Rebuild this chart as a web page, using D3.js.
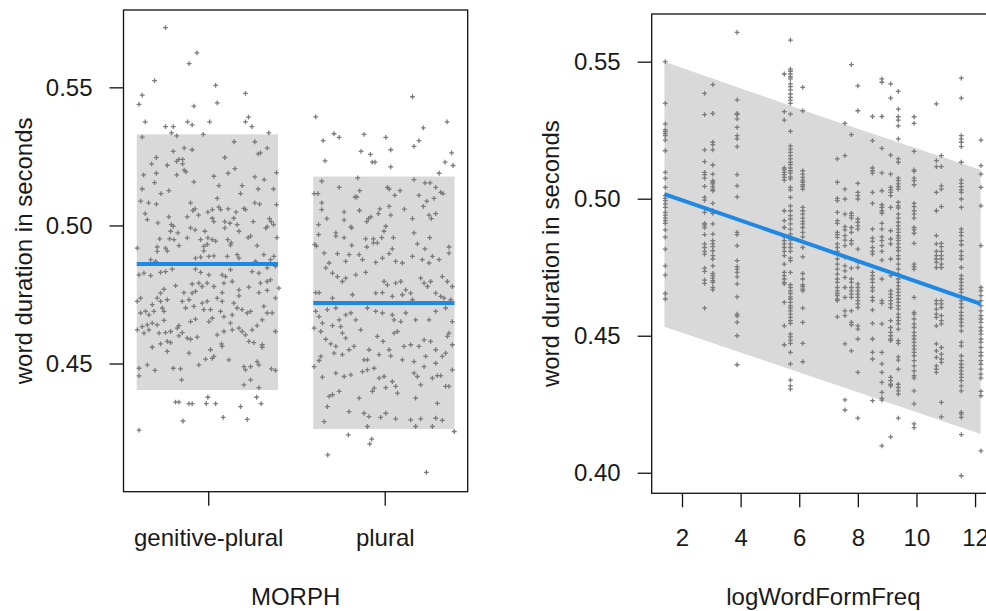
<!DOCTYPE html>
<html>
<head>
<meta charset="utf-8">
<style>
  body { margin: 0; background: #fff; }
  svg text { font-family: "Liberation Sans", Arial, sans-serif; fill: #1a1a1a; }
  .axis text { font-size: 24px; }
  .axis line { stroke: #111; stroke-width: 1.3; }
  .box { fill: none; stroke: #111; stroke-width: 1.3; }
  .pt { stroke: #7b7b7b; stroke-width: 1.3; fill: none; }
  .band { fill: #d9d9d9; }
  .fit { stroke: #1e88e5; stroke-width: 4; fill: none; }
</style>
</head>
<body>
<script src="https://d3js.org/d3.v7.min.js"></script>
<script>
// ---- left panel: MORPH ----
const categories = ['genitive-plural', 'plural'];
const categoryFit = [0.486, 0.4719];
const categoryLower = [0.4404, 0.4263];
const categoryUpper = [0.533, 0.5177];

// [jitter offset from category, duration]
const genitivePoints = [
  [-0.242,0.5716],[-0.064,0.5625],[-0.108,0.5586],[-0.304,0.5524],[0.042,0.5507],[-0.374,0.5472],[0.211,0.5478],
  [-0.392,0.5438],[0.051,0.5444],[-0.081,0.5432],[-0.357,0.5375],[-0.242,0.5358],[-0.198,0.5358],[-0.117,0.5375],
  [-0.091,0.5364],[0.008,0.5375],[0.211,0.5375],[0.228,0.5392],[0.247,0.5358],[-0.208,0.5335],[-0.179,0.5324],
  [-0.028,0.5330],[0.343,0.5335],[-0.374,0.5320],
  [0.147,0.5303],[0.264,0.5303],[-0.136,0.5280],[-0.091,0.5274],[-0.198,0.5268],[0.334,0.5280],[0.283,0.5259],
  [0.296,0.5263],[-0.294,0.5246],[0.094,0.5246],[-0.179,0.5232],[-0.166,0.5239],[-0.145,0.5239],[-0.321,0.5223],
  [-0.232,0.5218],[-0.145,0.5223],[0.151,0.5206],[-0.136,0.5200],[-0.126,0.5194],[-0.294,0.5189],[-0.366,0.5183],
  [-0.179,0.5183],[0.113,0.5189],[0.032,0.5178],[0.264,0.5176],[0.387,0.5191],[-0.081,0.5158],[-0.304,0.5155],
  [0.317,0.5166],[0.060,0.5144],[0.192,0.5144],[-0.374,0.5132],[-0.223,0.5126],[-0.268,0.5115],[0.283,0.5132],
  [0.370,0.5132],[0.183,0.5115],[0.051,0.5098],[-0.383,0.5088],[-0.338,0.5082],[-0.294,0.5077],[-0.100,0.5082],
  [0.264,0.5082],[0.291,0.5077],[0.387,0.5075],[-0.075,0.5060],[0.060,0.5066],[0.070,0.5057],[0.113,0.5060],
  [0.023,0.5057],[-0.002,0.5048],[-0.087,0.5054],[0.202,0.5062],[0.211,0.5057],[-0.357,0.5043],[-0.345,0.5021],
  [-0.285,0.5009],[-0.223,0.5031],[-0.119,0.5031],[-0.055,0.5037],[0.023,0.5026],[0.032,0.5014],[0.094,0.5014],
  [0.158,0.5048],[0.145,0.5026],[0.347,0.5025],[0.357,0.5014],[0.255,0.5014],[0.334,0.4995],[0.326,0.4990],
  [0.370,0.5003],[-0.209,0.5003],[-0.198,0.4997],[-0.172,0.4973],[-0.213,0.4979],[-0.100,0.4991],[-0.074,0.4984],
  [-0.019,0.4979],[0.094,0.4991],[0.123,0.5008],[0.164,0.5003],[0.174,0.4979],[-0.219,0.4951],[-0.194,0.4949],
  [-0.275,0.4951],[-0.119,0.4955],[-0.043,0.4949],[-0.002,0.4955],[0.023,0.4949],[0.042,0.4943],[0.111,0.4949],
  [0.130,0.4937],[0.240,0.4961],[0.226,0.4956],[0.389,0.4956],[-0.289,0.4922],[-0.242,0.4918],[-0.166,0.4927],
  [-0.025,0.4924],[-0.006,0.4931],[0.126,0.4929],[0.277,0.4927],[-0.402,0.4918],
  [-0.289,0.4906],[-0.232,0.4908],[-0.025,0.4908],[0.315,0.4894],[0.372,0.4888],[0.004,0.4888],[0.032,0.4890],
  [0.108,0.4888],[0.164,0.4894],[0.174,0.4882],[-0.326,0.4876],[-0.298,0.4870],[-0.072,0.4882],[-0.043,0.4885],
  [0.268,0.4870],[0.353,0.4876],[-0.392,0.4821],[-0.364,0.4827],[-0.326,0.4818],[-0.270,0.4830],[-0.242,0.4833],
  [-0.204,0.4842],[-0.072,0.4842],[-0.043,0.4830],[0.004,0.4821],[0.079,0.4821],[0.098,0.4815],[0.126,0.4840],
  [0.249,0.4833],[0.287,0.4827],[0.334,0.4846],[0.381,0.4852],[0.353,0.4803],[0.400,0.4773],[0.334,0.4797],
  [-0.185,0.4782],[-0.091,0.4788],[-0.053,0.4791],[-0.006,0.4791],[0.032,0.4779],[0.089,0.4791],[0.136,0.4797],
  [0.174,0.4767],[0.230,0.4777],[0.296,0.4791],[-0.251,0.4769],[-0.270,0.4755],[-0.289,0.4737],[-0.232,0.4731],
  [-0.138,0.4757],[-0.091,0.4755],[-0.072,0.4761],[-0.034,0.4779],[0.079,0.4757],[0.174,0.4745],[0.287,0.4757],
  [0.334,0.4765],[0.381,0.4737],[-0.402,0.4725],[-0.383,0.4737],[-0.317,0.4713],[-0.270,0.4725],[-0.147,0.4725],
  [-0.109,0.4731],[-0.034,0.4719],[-0.006,0.4725],[0.051,0.4737],[0.079,0.4725],[0.145,0.4719],[0.164,0.4701],
  [0.192,0.4695],[0.240,0.4689],[0.315,0.4707],[0.362,0.4683],[-0.383,0.4683],[-0.355,0.4689],[-0.336,0.4676],
  [-0.308,0.4689],[-0.260,0.4701],[-0.251,0.4689],[-0.128,0.4701],[-0.081,0.4707],[-0.025,0.4695],[0.013,0.4695],
  [0.070,0.4689],[0.089,0.4670],[0.136,0.4676],[0.221,0.4683],[0.334,0.4683],[-0.402,0.4622],[-0.374,0.4634],
  [-0.345,0.4640],[-0.317,0.4646],[-0.289,0.4640],[-0.251,0.4656],[-0.166,0.4637],[-0.175,0.4628],[-0.100,0.4652],
  [-0.072,0.4661],[0.004,0.4652],[0.023,0.4664],[0.051,0.4604],[0.089,0.4616],[0.126,0.4646],[0.136,0.4622],
  [0.174,0.4628],[0.192,0.4616],[0.211,0.4604],[0.249,0.4622],[0.277,0.4637],[0.306,0.4658],[0.381,0.4616],
  [-0.364,0.4610],[-0.336,0.4622],[-0.279,0.4610],[-0.242,0.4612],[-0.213,0.4616],[-0.166,0.4600],[-0.147,0.4612],
  [-0.119,0.4592],[-0.100,0.4588],[-0.062,0.4596],[-0.232,0.4580],[-0.317,0.4559],[-0.270,0.4571],[-0.213,0.4576],
  [-0.232,0.4544],[-0.109,0.4538],[-0.015,0.4516],[0.013,0.4550],[0.032,0.4526],[0.023,0.4519],[0.075,0.4571],
  [0.079,0.4562],[0.117,0.4513],[0.230,0.4580],[0.258,0.4576],[0.306,0.4568],[0.306,0.4559],[-0.053,0.4495],
  [0.277,0.4507],[0.287,0.4495],[-0.392,0.4483],[-0.392,0.4455],[-0.345,0.4495],[-0.302,0.4475],[-0.198,0.4483],
  [-0.157,0.4481],[-0.151,0.4441],[0.202,0.4489],[0.211,0.4477],[0.240,0.4489],[0.358,0.4481],[0.381,0.4475],
  [0.202,0.4423],[0.240,0.4441],[0.287,0.4413],[-0.002,0.4378],[-0.185,0.4360],[-0.166,0.4360],[-0.109,0.4355],
  [-0.091,0.4355],[-0.011,0.4355],[0.042,0.4355],[0.183,0.4344],[0.274,0.4378],[0.300,0.4355],[-0.143,0.4292],
  [0.085,0.4305],[0.221,0.4298],[-0.392,0.4259]
];

const pluralPoints = [
  [0.157,0.5466],[-0.391,0.5393],[0.353,0.5375],[0.219,0.5353],[-0.287,0.5332],[-0.258,0.5319],[-0.117,0.5330],
  [0.006,0.5319],[0.194,0.5307],[-0.349,0.5307],[0.166,0.5286],[0.034,0.5274],[-0.134,0.5268],[-0.081,0.5257],
  [0.379,0.5263],[-0.070,0.5229],[-0.055,0.5229],[-0.338,0.5234],[0.342,0.5229],[0.387,0.5217],[0.034,0.5212],
  [0.308,0.5189],[-0.357,0.5160],[-0.153,0.5172],[0.166,0.5166],[0.228,0.5154],[0.257,0.5154],[0.289,0.5138],
  [0.317,0.5120],[0.330,0.5115],[-0.400,0.5115],[-0.379,0.5115],[-0.258,0.5138],[-0.142,0.5126],[0.015,0.5138],
  [0.025,0.5132],[0.087,0.5126],[0.057,0.5109],[0.194,0.5109],[-0.168,0.5103],[-0.158,0.5103],[0.279,0.5098],
  [0.238,0.5088],[0.219,0.5069],[-0.357,0.5082],[-0.357,0.5057],[-0.143,0.5054],[-0.230,0.5048],[0.025,0.5069],
  [-0.028,0.5060],[-0.036,0.5043],[0.111,0.5059],[0.251,0.5037],[0.264,0.5025],[0.289,0.5043],[-0.328,0.5025],
  [-0.230,0.5019],[-0.102,0.5014],[-0.092,0.5025],[-0.079,0.5031],[0.034,0.5037],[0.157,0.5025],[-0.375,0.5003],
  [-0.192,0.4995],[-0.187,0.4991],[0.006,0.4997],[-0.004,0.4979],[-0.277,0.4973],[-0.277,0.4961],[-0.375,0.4967],
  [-0.230,0.4956],[-0.108,0.4951],[-0.064,0.4951],[-0.064,0.4937],[-0.042,0.4937],[-0.017,0.4956],[0.049,0.4956],
  [0.166,0.4973],[0.255,0.4956],[-0.396,0.4931],[-0.387,0.4925],[-0.187,0.4928],[-0.102,0.4922],[0.043,0.4915],
  [0.185,0.4933],[0.364,0.4922],[0.228,0.4915],
  [-0.343,0.4900],[-0.268,0.4898],[-0.202,0.4894],[-0.145,0.4894],[-0.013,0.4882],[0.062,0.4870],[0.100,0.4864],
  [0.213,0.4876],[0.251,0.4864],[0.308,0.4876],[0.364,0.4900],[-0.315,0.4864],[-0.221,0.4870],[-0.126,0.4876],
  [-0.051,0.4866],[0.025,0.4898],[0.157,0.4888],[0.270,0.4888],[-0.334,0.4846],[-0.296,0.4827],[-0.268,0.4815],
  [-0.240,0.4797],[-0.221,0.4809],[-0.164,0.4821],[-0.108,0.4830],[-0.004,0.4797],[0.015,0.4785],[0.062,0.4791],
  [0.091,0.4797],[0.119,0.4767],[0.147,0.4755],[0.204,0.4809],[0.223,0.4791],[0.242,0.4779],[0.260,0.4797],
  [0.326,0.4815],[0.355,0.4797],[0.383,0.4779],[-0.391,0.4757],[-0.372,0.4757],[-0.296,0.4737],[-0.183,0.4749],
  [-0.051,0.4755],[-0.013,0.4757],[0.043,0.4743],[0.100,0.4749],[0.157,0.4731],[0.289,0.4755],[0.317,0.4743],
  [0.336,0.4737],[0.374,0.4731],[-0.391,0.4689],[-0.372,0.4670],[-0.325,0.4695],[-0.277,0.4701],[-0.258,0.4658],
  [-0.221,0.4676],[-0.192,0.4683],[-0.164,0.4658],[-0.098,0.4701],[-0.051,0.4689],[-0.013,0.4683],[0.043,0.4676],
  [0.053,0.4658],[0.091,0.4652],[0.119,0.4683],[0.175,0.4658],[0.251,0.4658],[0.289,0.4689],[0.345,0.4701],
  [0.383,0.4652],[-0.400,0.4628],[-0.353,0.4646],[-0.296,0.4637],[-0.249,0.4634],[-0.240,0.4610],[-0.362,0.4616],
  [-0.334,0.4588],[-0.306,0.4571],[-0.277,0.4562],[-0.221,0.4592],[-0.202,0.4550],[-0.174,0.4562],[-0.136,0.4622],
  [-0.089,0.4550],[-0.042,0.4598],[-0.009,0.4580],[0.025,0.4550],[0.053,0.4610],[0.072,0.4616],[0.109,0.4562],
  [0.147,0.4568],[0.194,0.4562],[0.223,0.4586],[0.260,0.4580],[0.289,0.4550],[0.355,0.4598],[0.364,0.4610],
  [0.383,0.4568],[-0.287,0.4538],[-0.362,0.4526],[-0.372,0.4511],[-0.240,0.4532],[-0.117,0.4513],[-0.098,0.4513],
  [-0.032,0.4532],[0.034,0.4528],[0.100,0.4513],[0.166,0.4507],[0.232,0.4526],[0.326,0.4526],[0.345,0.4538],
  [-0.400,0.4489],[-0.353,0.4451],[-0.277,0.4465],[-0.230,0.4453],[-0.192,0.4459],[-0.126,0.4471],[-0.098,0.4477],
  [-0.060,0.4483],[-0.032,0.4447],[-0.004,0.4453],[0.043,0.4435],[0.062,0.4417],[0.166,0.4465],[0.185,0.4453],
  [0.204,0.4423],[0.223,0.4489],[0.270,0.4447],[0.289,0.4501],[0.298,0.4456],[0.317,0.4456],[0.383,0.4477],
  [0.364,0.4417],[-0.315,0.4381],[-0.296,0.4387],[-0.258,0.4399],[-0.145,0.4375],[-0.070,0.4399],[-0.060,0.4411],
  [0.006,0.4413],[0.072,0.4393],[0.175,0.4375],[0.298,0.4356],[0.345,0.4417],[-0.325,0.4344],[-0.202,0.4326],
  [-0.117,0.4320],[-0.089,0.4308],[-0.023,0.4305],[0.062,0.4300],[0.147,0.4296],[0.204,0.4300],[0.289,0.4302],
  [0.326,0.4294],[-0.343,0.4290],[0.175,0.4272],[0.270,0.4272],[-0.098,0.4272],[0.006,0.4320],[-0.206,0.4242],
  [-0.074,0.4226],[-0.085,0.4209],[-0.323,0.4169],[0.236,0.4106],[0.394,0.4254]
];

// ---- right panel: logWordFormFreq ----
const freqLevels = [1.43, 2.77, 3.05, 3.88, 5.49, 5.70, 6.12, 7.30, 7.56, 7.78,
                    8.00, 8.50, 8.82, 9.12, 9.38, 9.92, 10.68, 10.85, 11.53, 12.20];
const freqDurations = [
  [0.5500,0.5348,0.5273,0.5251,0.5246,0.5238,0.5230,0.5214,0.5175,0.5096,0.5074,0.5041,0.5011,0.5001,0.4993,0.4981,
   0.4968,0.4950,0.4940,0.4929,0.4920,0.4910,0.4886,0.4860,0.4816,0.4755,0.4721,0.4654,0.4634],
  [0.5384,0.5307,0.5178,0.5135,0.5096,0.5088,0.5075,0.5045,0.5005,0.4995,0.4950,0.4910,0.4904,0.4895,0.4869,0.4835,
   0.4822,0.4808,0.4798,0.4747,0.4735,0.4703,0.4691,0.4601],
  [0.5416,0.5311,0.5206,0.5197,0.5178,0.5123,0.5090,0.5066,0.5060,0.5054,0.5044,0.5035,0.5029,0.4983,0.4956,0.4947,
   0.4908,0.4871,0.4847,0.4835,0.4825,0.4810,0.4792,0.4780,0.4755,0.4727,0.4719,0.4710,0.4701,0.4695,0.4676,0.4667],
  [0.5607,0.5361,0.5311,0.5307,0.5291,0.5260,0.5230,0.5218,0.5190,0.5088,0.5047,0.5007,0.4877,0.4869,0.4829,0.4774,
   0.4752,0.4743,0.4731,0.4715,0.4689,0.4642,0.4579,0.4572,0.4549,0.4500,0.4394],
  [0.5455,0.5318,0.5287,0.5112,0.5105,0.5096,0.5088,0.5078,0.5068,0.4956,0.4920,0.4895,0.4861,0.4847,0.4835,0.4822,
   0.4808,0.4792,0.4761,0.4731,0.4719,0.4707,0.4695,0.4689,0.4622,0.4536,0.4467],
  [0.5579,0.5473,0.5465,0.5455,0.5445,0.5437,0.5419,0.5409,0.5397,0.5382,0.5370,0.5360,0.5348,0.5309,0.5246,0.5193,
   0.5181,0.5169,0.5157,0.5145,0.5133,0.5124,0.5112,0.5102,0.5093,0.5080,0.5072,0.5041,0.5032,0.5005,0.4974,0.4956,
   0.4938,0.4926,0.4908,0.4889,0.4871,0.4849,0.4835,0.4822,0.4808,0.4783,0.4774,0.4731,0.4686,0.4676,0.4664,0.4654,
   0.4642,0.4634,0.4622,0.4609,0.4601,0.4591,0.4579,0.4567,0.4555,0.4545,0.4506,0.4496,0.4484,0.4472,0.4439,0.4397,
   0.4338,0.4317,0.4305],
  [0.5406,0.5321,0.5102,0.5090,0.5078,0.5068,0.5060,0.5051,0.5044,0.5035,0.4968,0.4956,0.4944,0.4929,0.4917,0.4908,
   0.4895,0.4877,0.4861,0.4822,0.4788,0.4727,0.4707,0.4686,0.4679,0.4670,0.4664,0.4601,0.4549,0.4472,0.4405],
  [0.5145,0.5060,0.5001,0.4993,0.4950,0.4920,0.4910,0.4877,0.4869,0.4859,0.4835,0.4822,0.4808,0.4780,0.4761,0.4743,
   0.4725,0.4707,0.4695,0.4676,0.4664,0.4654,0.4646,0.4634,0.4628,0.4569],
  [0.5275,0.5157,0.5035,0.4999,0.4944,0.4898,0.4886,0.4865,0.4849,0.4829,0.4786,0.4755,0.4737,0.4713,0.4676,0.4640,
   0.4591,0.4573,0.4470,0.4266,0.4229],
  [0.5489,0.5234,0.4947,0.4938,0.4929,0.4895,0.4877,0.4847,0.4835,0.4747,0.4707,0.4695,0.4676,0.4664,0.4652,0.4640,
   0.4591,0.4549,0.4540,0.4445],
  [0.5412,0.5321,0.5056,0.5023,0.5011,0.4999,0.4926,0.4914,0.4901,0.4889,0.4816,0.4768,0.4749,0.4689,0.4676,0.4664,
   0.4652,0.4640,0.4628,0.4616,0.4603,0.4536,0.4524,0.4488,0.4366,0.4199],
  [0.5300,0.5212,0.5112,0.5102,0.5093,0.5023,0.4983,0.4889,0.4856,0.4844,0.4822,0.4808,0.4798,0.4731,0.4719,0.4707,
   0.4695,0.4676,0.4664,0.4640,0.4628,0.4594,0.4545,0.4488,0.4439,0.4415,0.4263],
  [0.5437,0.5425,0.5300,0.5184,0.5094,0.5029,0.4978,0.4968,0.4956,0.4947,0.4910,0.4889,0.4861,0.4847,0.4829,0.4808,
   0.4776,0.4707,0.4628,0.4618,0.4543,0.4439,0.4397,0.4366,0.4330,0.4293,0.4272,0.4265,0.4098],
  [0.5419,0.5367,0.5159,0.5090,0.5041,0.5032,0.5023,0.5011,0.4968,0.4883,0.4853,0.4835,0.4780,0.4719,0.4664,0.4652,
   0.4640,0.4628,0.4616,0.4603,0.4555,0.4530,0.4512,0.4500,0.4488,0.4482,0.4348,0.4336,0.4323,0.4317,0.4131],
  [0.5392,0.5327,0.5299,0.5287,0.5266,0.5218,0.5145,0.5133,0.5075,0.5066,0.5054,0.5044,0.5035,0.4987,0.4974,0.4966,
   0.4944,0.4929,0.4914,0.4901,0.4889,0.4877,0.4865,0.4856,0.4847,0.4835,0.4822,0.4810,0.4792,0.4780,0.4761,0.4743,
   0.4725,0.4707,0.4695,0.4682,0.4670,0.4658,0.4646,0.4634,0.4622,0.4609,0.4597,0.4579,0.4567,0.4555,0.4543,0.4524,
   0.4482,0.4472,0.4423,0.4411,0.4378,0.4323,0.4311,0.4299,0.4287,0.4199],
  [0.5299,0.5275,0.5173,0.5105,0.5100,0.5075,0.5066,0.5051,0.4983,0.4971,0.4956,0.4944,0.4929,0.4895,0.4886,0.4874,
   0.4837,0.4761,0.4752,0.4743,0.4640,0.4585,0.4579,0.4561,0.4543,0.4530,0.4512,0.4500,0.4488,0.4476,0.4463,0.4451,
   0.4439,0.4427,0.4409,0.4390,0.4372,0.4354,0.4345,0.4299,0.4251,0.4178,0.4165],
  [0.5346,0.5139,0.5117,0.5023,0.4956,0.4865,0.4835,0.4808,0.4792,0.4780,0.4768,0.4749,0.4628,0.4616,0.4597,0.4579,
   0.4567,0.4536,0.4470,0.4445,0.4421,0.4390,0.4378,0.4366],
  [0.5157,0.5117,0.5047,0.5035,0.4971,0.4837,0.4825,0.4808,0.4792,0.4780,0.4761,0.4749,0.4628,0.4616,0.4603,0.4573,
   0.4555,0.4543,0.4457,0.4433,0.4415,0.4403,0.4257,0.4204],
  [0.5440,0.5367,0.5230,0.5218,0.5206,0.5190,0.5133,0.5068,0.5056,0.5044,0.5032,0.5023,0.4999,0.4968,0.4889,0.4877,
   0.4865,0.4847,0.4832,0.4808,0.4792,0.4780,0.4749,0.4719,0.4707,0.4695,0.4682,0.4670,0.4658,0.4640,0.4628,0.4616,
   0.4603,0.4585,0.4573,0.4561,0.4549,0.4536,0.4518,0.4476,0.4463,0.4427,0.4409,0.4396,0.4384,0.4372,0.4360,0.4348,
   0.4336,0.4317,0.4299,0.4220,0.4214,0.4202,0.4139,0.3989],
  [0.5214,0.5121,0.5090,0.5041,0.4974,0.4829,0.4676,0.4664,0.4646,0.4628,0.4609,0.4591,0.4573,0.4561,0.4549,0.4530,
   0.4518,0.4506,0.4488,0.4476,0.4457,0.4439,0.4427,0.4409,0.4396,0.4378,0.4360,0.4345,0.4297,0.4281,0.4080]
];
const freqFitX = [1.40, 6.67, 12.19];
const freqFit = [0.5017, 0.4822, 0.4616];
const freqLower = [0.4533, 0.4342, 0.4141];
const freqUpper = [0.5500, 0.5303, 0.5106];

const yTicksLeft = [0.45, 0.50, 0.55];
const yTicksRight = [0.40, 0.45, 0.50, 0.55];
const xTicksRight = [2, 4, 6, 8, 10, 12];

const W = 986, H = 611;
const svg = d3.select('body').append('svg')
  .attr('width', W)
  .attr('height', H);

const plusPath = 'M-2.4,0H2.4M0,-2.4V2.4';

// ---------- left panel ----------
const L = { left: 123.5, right: 467.7, top: 10, bottom: 491.7 };
const xL = d3.scaleLinear().domain([0.52, 2.47]).range([L.left, L.right]);
const yL = d3.scaleLinear().domain([0.4036, 0.578]).range([L.bottom, L.top]);

const left = svg.append('g');

left.selectAll('rect.band')
  .data(categories)
  .join('rect')
  .attr('class', 'band')
  .attr('x', (d, i) => xL(i + 1 - 0.405))
  .attr('width', (d, i) => xL(i + 1 + 0.395) - xL(i + 1 - 0.405))
  .attr('y', (d, i) => yL(categoryUpper[i]))
  .attr('height', (d, i) => yL(categoryLower[i]) - yL(categoryUpper[i]));

const leftPts = genitivePoints.map(p => [1 + p[0], p[1]])
  .concat(pluralPoints.map(p => [2 + p[0], p[1]]));

left.append('g')
  .selectAll('path')
  .data(leftPts)
  .join('path')
  .attr('class', 'pt')
  .attr('d', plusPath)
  .attr('transform', d => `translate(${xL(d[0])},${yL(d[1])})`);

left.selectAll('line.fit')
  .data(categories)
  .join('line')
  .attr('class', 'fit')
  .attr('x1', (d, i) => xL(i + 1 - 0.405))
  .attr('x2', (d, i) => xL(i + 1 + 0.395))
  .attr('y1', (d, i) => yL(categoryFit[i]))
  .attr('y2', (d, i) => yL(categoryFit[i]));

left.append('rect')
  .attr('class', 'box')
  .attr('x', L.left).attr('y', L.top)
  .attr('width', L.right - L.left).attr('height', L.bottom - L.top);

left.append('g')
  .attr('class', 'axis')
  .attr('transform', `translate(${L.left},0)`)
  .call(d3.axisLeft(yL).tickValues(yTicksLeft).tickFormat(d3.format('.2f')).tickSize(14).tickPadding(17))
  .call(g => g.select('.domain').remove())
  .call(g => g.selectAll('text').attr('font-family', null).attr('font-size', null));

left.append('g')
  .attr('class', 'axis')
  .attr('transform', `translate(0,${L.bottom})`)
  .call(d3.axisBottom(xL).tickValues([1, 2]).tickFormat(d => categories[d - 1]).tickSize(14).tickPadding(23))
  .call(g => g.select('.domain').remove())
  .call(g => g.selectAll('text').attr('font-family', null).attr('font-size', null));

left.append('text')
  .attr('x', (L.left + L.right) / 2)
  .attr('y', 605)
  .attr('text-anchor', 'middle')
  .attr('font-size', 24)
  .text('MORPH');

left.append('text')
  .attr('transform', `translate(23,${(L.top + L.bottom) / 2}) rotate(-90)`)
  .attr('dy', '0.36em')
  .attr('text-anchor', 'middle')
  .attr('font-size', 24)
  .text('word duration in seconds');

// ---------- right panel ----------
const R = { left: 651.7, right: 995, top: 14, bottom: 493.3 };
const xR = d3.scaleLinear().domain([0.966, 12.68]).range([R.left, R.right]);
const yR = d3.scaleLinear().domain([0.3925, 0.5674]).range([R.bottom, R.top]);

const right = svg.append('g');
svg.append('clipPath').attr('id', 'clipR')
  .append('rect')
  .attr('x', R.left).attr('y', R.top)
  .attr('width', R.right - R.left).attr('height', R.bottom - R.top);

const plotR = right.append('g').attr('clip-path', 'url(#clipR)');

const bandData = freqFitX.map((x, i) => ({ x, lo: freqLower[i], hi: freqUpper[i], fit: freqFit[i] }));

plotR.append('path')
  .datum(bandData)
  .attr('class', 'band')
  .attr('d', d3.area().x(d => xR(d.x)).y0(d => yR(d.lo)).y1(d => yR(d.hi)));

const rightPts = [];
freqLevels.forEach((x, i) => freqDurations[i].forEach(v => rightPts.push([x, v])));

plotR.append('g')
  .selectAll('path')
  .data(rightPts)
  .join('path')
  .attr('class', 'pt')
  .attr('d', plusPath)
  .attr('transform', d => `translate(${xR(d[0])},${yR(d[1])})`);

plotR.append('path')
  .datum(bandData)
  .attr('class', 'fit')
  .attr('d', d3.line().x(d => xR(d.x)).y(d => yR(d.fit)));

right.append('rect')
  .attr('class', 'box')
  .attr('x', R.left).attr('y', R.top)
  .attr('width', R.right - R.left).attr('height', R.bottom - R.top);

right.append('g')
  .attr('class', 'axis')
  .attr('transform', `translate(${R.left},0)`)
  .call(d3.axisLeft(yR).tickValues(yTicksRight).tickFormat(d3.format('.2f')).tickSize(14).tickPadding(17))
  .call(g => g.select('.domain').remove())
  .call(g => g.selectAll('text').attr('font-family', null).attr('font-size', null));

right.append('g')
  .attr('class', 'axis')
  .attr('transform', `translate(0,${R.bottom})`)
  .call(d3.axisBottom(xR).tickValues(xTicksRight).tickSize(14).tickPadding(22))
  .call(g => g.select('.domain').remove())
  .call(g => g.selectAll('text').attr('font-family', null).attr('font-size', null));

right.append('text')
  .attr('x', (R.left + R.right) / 2)
  .attr('y', 605)
  .attr('text-anchor', 'middle')
  .attr('font-size', 24)
  .text('logWordFormFreq');

right.append('text')
  .attr('transform', `translate(550,${(R.top + R.bottom) / 2}) rotate(-90)`)
  .attr('dy', '0.36em')
  .attr('text-anchor', 'middle')
  .attr('font-size', 24)
  .text('word duration in seconds');
</script>
</body>
</html>
